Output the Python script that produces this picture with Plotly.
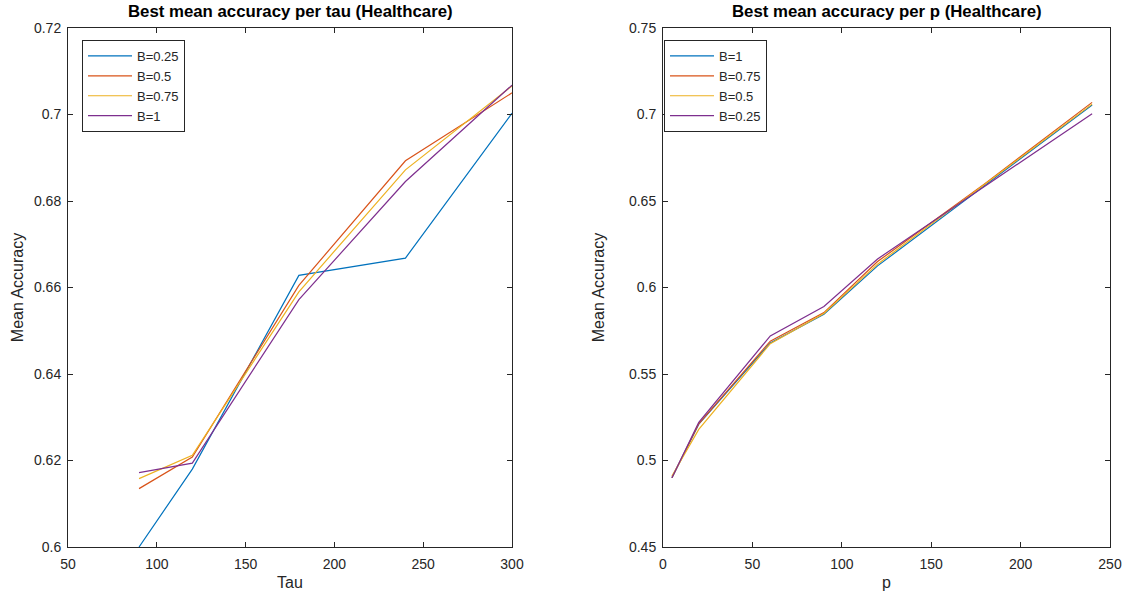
import plotly.graph_objects as go

# Left panel: best mean accuracy per tau
tau = [90, 120, 180, 240, 300]
tau_labels = ["B=0.25", "B=0.5", "B=0.75", "B=1"]
tau_b025 = [0.6000, 0.6180, 0.6628, 0.6668, 0.7003]
tau_b05 = [0.6135, 0.6208, 0.6605, 0.6893, 0.7050]
tau_b075 = [0.6158, 0.6212, 0.6590, 0.6872, 0.7066]
tau_b1 = [0.6172, 0.6194, 0.6572, 0.6845, 0.7068]

# Right panel: best mean accuracy per p
p = [5, 20, 60, 90, 120, 180, 240]
p_labels = ["B=1", "B=0.75", "B=0.5", "B=0.25"]
p_b1 = [0.4900, 0.5210, 0.5680, 0.5845, 0.6125, 0.6590, 0.7055]
p_b075 = [0.4900, 0.5212, 0.5690, 0.5855, 0.6150, 0.6600, 0.7070]
p_b05 = [0.4910, 0.5180, 0.5675, 0.5850, 0.6135, 0.6600, 0.7060]
p_b025 = [0.4900, 0.5220, 0.5720, 0.5890, 0.6165, 0.6585, 0.7005]

colors = ["#0072BD", "#D95319", "#EDB120", "#7E2F8E"]
font_family = "Liberation Sans, Arial, sans-serif"

fig = go.Figure()
for name, ys, c in zip(tau_labels, [tau_b025, tau_b05, tau_b075, tau_b1], colors):
    fig.add_trace(go.Scatter(x=tau, y=ys, mode="lines", name=name,
                             line=dict(color=c, width=1.2),
                             xaxis="x", yaxis="y", legend="legend"))
for name, ys, c in zip(p_labels, [p_b1, p_b075, p_b05, p_b025], colors):
    fig.add_trace(go.Scatter(x=p, y=ys, mode="lines", name=name,
                             line=dict(color=c, width=1.2),
                             xaxis="x2", yaxis="y2", legend="legend2"))

W, H = 1130, 598
ydom = [(H - 547) / H, (H - 28) / H]
axis_common = dict(showgrid=False, zeroline=False, showline=True, mirror="ticks",
                   linecolor="#262626", linewidth=1, ticks="inside", ticklen=5,
                   tickcolor="#262626", automargin=False,
                   tickfont=dict(family=font_family, size=14, color="#262626"))
title_font = dict(size=16, family=font_family, color="#262626")

fig.update_layout(
    width=W, height=H,
    margin=dict(l=0, r=0, t=0, b=0),
    paper_bgcolor="white", plot_bgcolor="white",
    font=dict(family=font_family, color="#262626"),
    xaxis=dict(domain=[68 / W, 512 / W], range=[50, 300], dtick=50, anchor="y",
               ticklabelstandoff=4,
               title=dict(text="Tau", font=title_font, standoff=6),
               **axis_common),
    yaxis=dict(domain=ydom, range=[0.6, 0.72], dtick=0.02, anchor="x",
               ticklabelstandoff=3,
               title=dict(text="Mean Accuracy", font=title_font, standoff=6),
               **axis_common),
    xaxis2=dict(domain=[663 / W, 1110 / W], range=[0, 250], dtick=50, anchor="y2",
                ticklabelstandoff=4,
                title=dict(text="p", font=title_font, standoff=6),
                **axis_common),
    yaxis2=dict(domain=ydom, range=[0.45, 0.75], dtick=0.05, anchor="x2",
                ticklabelstandoff=3,
                title=dict(text="Mean Accuracy", font=title_font, standoff=20),
                **axis_common),
    legend=dict(x=82 / W, y=(H - 40) / H, xanchor="left", yanchor="top",
                bgcolor="white", bordercolor="#262626", borderwidth=1,
                font=dict(family=font_family, size=13, color="#262626"),
                tracegroupgap=0, itemwidth=44),
    legend2=dict(x=664 / W, y=(H - 40) / H, xanchor="left", yanchor="top",
                 bgcolor="white", bordercolor="#262626", borderwidth=1,
                 font=dict(family=font_family, size=13, color="#262626"),
                 tracegroupgap=0, itemwidth=44),
    annotations=[
        dict(text="<b>Best mean accuracy per tau (Healthcare)</b>", x=(68 + 512) / 2 / W, y=(H - 12) / H,
             xref="paper", yref="paper", showarrow=False, xanchor="center", yanchor="middle",
             font=dict(family=font_family, size=16.8, color="black")),
        dict(text="<b>Best mean accuracy per p (Healthcare)</b>", x=(663 + 1110) / 2 / W, y=(H - 12) / H,
             xref="paper", yref="paper", showarrow=False, xanchor="center", yanchor="middle",
             font=dict(family=font_family, size=16.8, color="black")),
    ],
)

fig.write_html("out.html")
